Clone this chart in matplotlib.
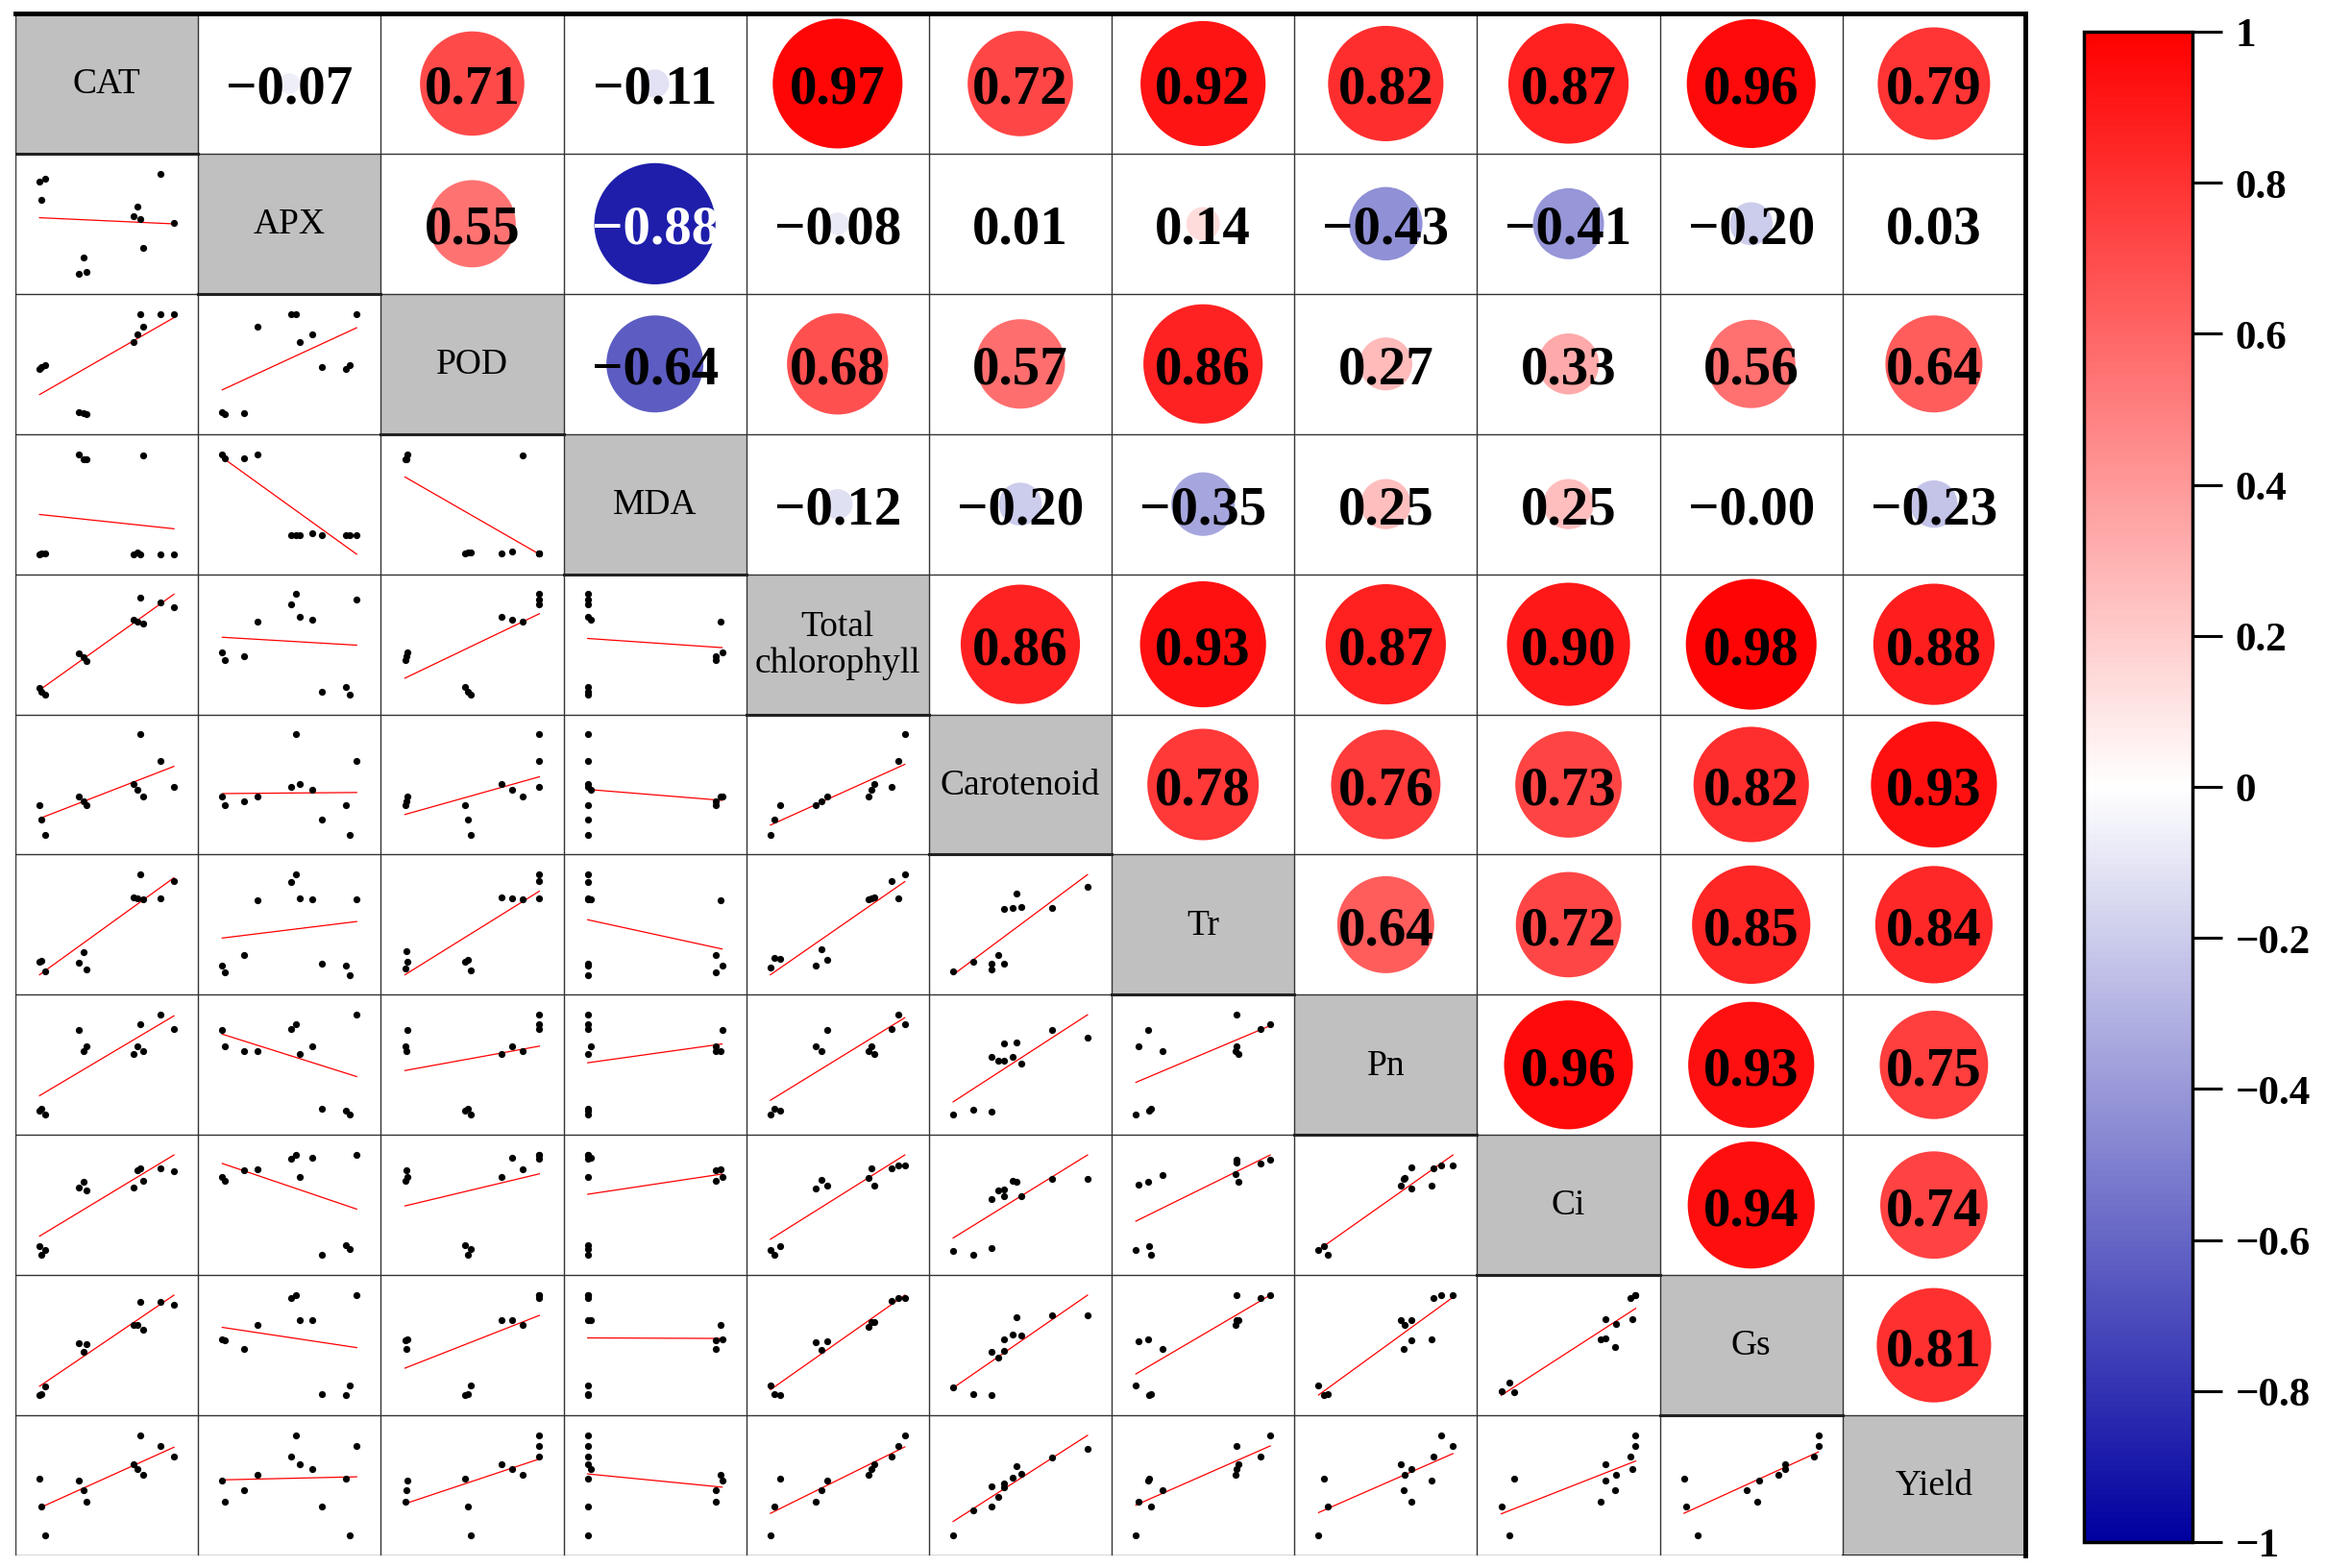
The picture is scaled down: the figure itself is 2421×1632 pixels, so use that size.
import numpy as np
import matplotlib.pyplot as plt
from matplotlib.colors import LinearSegmentedColormap, Normalize
from matplotlib.cm import ScalarMappable
from matplotlib.patches import Rectangle

plt.rcParams['font.family'] = ['Liberation Serif', 'DejaVu Serif']

names = ['CAT', 'APX', 'POD', 'MDA', 'Total\nchlorophyll', 'Carotenoid',
         'Tr', 'Pn', 'Ci', 'Gs', 'Yield']

# 12 samples per trait (scaled 0-1)
cat = [0.75, 0.90, 1.00, 0.70, 0.73, 0.77, 0.00, 0.29, 0.33, 0.35, 0.01, 0.04]
apx = [0.55, 1.00, 0.51, 0.58, 0.67, 0.26, 0.92, 0.00, 0.16, 0.02, 0.74, 0.95]
pod = [1.00, 1.00, 1.00, 0.72, 0.80, 0.875, 0.45, 0.02, 0.01, 0.00, 0.47, 0.49]
mda = [0.00, 0.00, 0.00, 0.00, 0.02, 0.99, 0.00, 1.00, 0.95, 0.95, 0.005, 0.005]
tchl = [1.00, 0.95, 0.90, 0.77, 0.75, 0.73, 0.07, 0.42, 0.38, 0.34, 0.03, 0.00]
caro = [1.00, 0.737, 0.474, 0.509, 0.444, 0.379, 0.289, 0.379, 0.332, 0.289, 0.147, 0.00]
tr = [1.00, 0.75, 0.93, 0.76, 0.75, 0.74, 0.095, 0.09, 0.20, 0.02, 0.11, 0.00]
pn = [0.91, 1.00, 0.857, 0.61, 0.69, 0.64, 0.043, 0.844, 0.636, 0.69, 0.065, 0.00]
ci = [1.00, 1.00, 0.964, 0.776, 0.973, 0.857, 0.098, 0.776, 0.844, 0.738, 0.00, 0.058]
gs = [1.00, 1.00, 0.97, 0.75, 0.755, 0.70, 0.00, 0.557, 0.466, 0.545, 0.015, 0.098]
yld = [1.00, 0.897, 0.793, 0.714, 0.659, 0.603, 0.566, 0.552, 0.448, 0.338, 0.290, 0.00]
data = [cat, apx, pod, mda, tchl, caro, tr, pn, ci, gs, yld]

# correlation coefficients printed in the upper triangle (row by row)
r_cat = [-0.07, 0.71, -0.11, 0.97, 0.72, 0.92, 0.82, 0.87, 0.96, 0.79]
r_apx = [0.55, -0.88, -0.08, 0.01, 0.14, -0.43, -0.41, -0.20, 0.03]
r_pod = [-0.64, 0.68, 0.57, 0.86, 0.27, 0.33, 0.56, 0.64]
r_mda = [-0.12, -0.20, -0.35, 0.25, 0.25, -0.00, -0.23]
r_tchl = [0.86, 0.93, 0.87, 0.90, 0.98, 0.88]
r_caro = [0.78, 0.76, 0.73, 0.82, 0.93]
r_tr = [0.64, 0.72, 0.85, 0.84]
r_pn = [0.96, 0.93, 0.75]
r_ci = [0.94, 0.74]
r_gs = [0.81]
r_rows = [r_cat, r_apx, r_pod, r_mda, r_tchl, r_caro, r_tr, r_pn, r_ci, r_gs]

W, H = 2421, 1633
n = len(names)
gx0, gx1, gy0, gy1 = 16, 2108, 15, 1620
cw = (gx1 - gx0) / n
ch = (gy1 - gy0) / n

cmap = LinearSegmentedColormap.from_list('cor', ['#0000A0', '#FFFFFF', '#FF0000'])
norm = Normalize(-1, 1)

fig = plt.figure(figsize=(W / 100, H / 100), dpi=100)
ax = fig.add_axes([gx0 / W, 1 - gy1 / H, (gx1 - gx0) / W, (gy1 - gy0) / H])
ax.set_xlim(0, n)
ax.set_ylim(n, 0)
ax.axis('off')

for k in range(n):
    ax.add_patch(Rectangle((k, k), 1, 1, facecolor='#C0C0C0', edgecolor='none', zorder=0))
for k in range(n + 1):
    ax.plot([k, k], [0, n], color='#333333', lw=1.0, zorder=1)
    ax.plot([0, n], [k, k], color='#333333', lw=1.0, zorder=1)
for k in range(n):
    ax.plot([k, k + 1], [k + 1, k + 1], color='#222222', lw=2.2, zorder=2)
ax.plot([0, n], [0, 0], color='black', lw=3.5, zorder=5, clip_on=False)
ax.plot([n, n], [0, n], color='black', lw=3.5, zorder=5, clip_on=False)

for k, name in enumerate(names):
    ax.text(k + 0.5, k + 0.5, name, ha='center', va='center', fontsize=27,
            linespacing=1.15, zorder=3)

# upper triangle: circles + values
for i, row in enumerate(r_rows):
    for m, r in enumerate(row):
        j = i + 1 + m
        d_px = 138 * abs(r) ** 0.7
        ax.scatter([j + 0.5], [i + 0.5], s=(d_px * 0.72) ** 2, color=cmap(norm(r)),
                   edgecolors='none', zorder=3)
        label = f'{r:.2f}'.replace('-', '\u2212')
        tc = 'white' if r < -0.7 else 'black'
        ax.text(j + 0.5, i + 0.5, label, ha='center', va='center_baseline',
                fontsize=41, fontweight='bold', color=tc, zorder=4)

# lower triangle: scatter + linear fit
for i in range(n):
    for j in range(i):
        x = np.array(data[j])
        y = np.array(data[i])
        k, b = np.polyfit(x, y, 1)
        xl = np.array([x.min(), x.max()])
        yl = k * xl + b
        sub = fig.add_axes([(gx0 + j * cw) / W, 1 - (gy0 + (i + 1) * ch) / H, cw / W, ch / H])
        sub.plot(xl, yl, color='red', lw=0.9, zorder=1)
        sub.plot(x, y, 'o', color='black', ms=5.2, mec='none', zorder=2)
        lo = min(y.min(), yl.min())
        hi = max(y.max(), yl.max())
        sub.set_xlim(x.min() - 0.18 * np.ptp(x), x.max() + 0.18 * np.ptp(x))
        sub.set_ylim(lo - 0.2 * (hi - lo), hi + 0.2 * (hi - lo))
        sub.axis('off')

cax = fig.add_axes([2169 / W, 1 - 1606 / H, (2282 - 2169) / W, (1606 - 34) / H])
cb = fig.colorbar(ScalarMappable(norm=norm, cmap=cmap), cax=cax)
ticks = [-1, -0.8, -0.6, -0.4, -0.2, 0, 0.2, 0.4, 0.6, 0.8, 1]
cb.set_ticks(ticks)
cb.set_ticklabels(['\u22121', '\u22120.8', '\u22120.6', '\u22120.4', '\u22120.2', '0',
                   '0.2', '0.4', '0.6', '0.8', '1'])
cb.outline.set_linewidth(2.5)
cax.tick_params(length=22, width=2.2, labelsize=31, pad=10)
for t in cax.get_yticklabels():
    t.set_fontweight('bold')

fig.savefig('out.png', dpi=100)
